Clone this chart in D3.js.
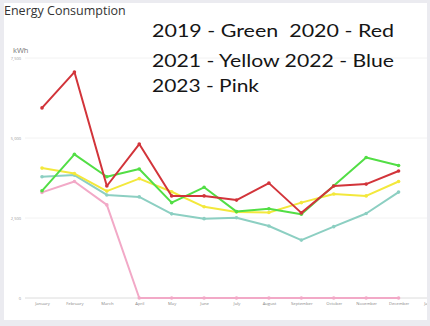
<!DOCTYPE html>
<html><head><meta charset="utf-8">
<script src="https://cdn.jsdelivr.net/npm/d3@7"></script>
<style>html,body{margin:0;padding:0;background:#ebebf0;}svg{display:block}</style>
</head><body>
<svg id="chart" width="430" height="326"></svg>
<script>
const months = ["January","February","March","April","May","June","July","August","September","October","November","December","January "];
const yTicks = [0, 2500, 5000, 7500];
const v2019 = [3350, 4490, 3790, 4030, 2980, 3460, 2700, 2790, 2620, 3510, 4390, 4140];
const v2020 = [5940, 7060, 3500, 4810, 3190, 3190, 3060, 3590, 2660, 3500, 3560, 3970];
const v2021 = [4060, 3890, 3340, 3730, 3320, 2850, 2690, 2670, 2980, 3250, 3190, 3640];
const v2022 = [3790, 3840, 3220, 3160, 2630, 2480, 2510, 2250, 1810, 2230, 2640, 3310];
const v2023 = [3300, 3640, 2910, 0, 0, 0, 0, 0, 0, 0, 0, 0];
const seriesNames = ["2019","2020","2021","2022","2023"];
const seriesColors = ["#52de45","#d2343a","#f3e83c","#8ccfc2","#f2a9c7"];
const legendLines = ["2019 - Green  2020 - Red","2021 - Yellow 2022 - Blue","2023 - Pink"];

const svg = d3.select("#chart");
svg.append("defs").append("clipPath").attr("id","card")
  .append("rect").attr("x",4).attr("y",3).attr("width",423).attr("height",317);
svg.append("rect").attr("x",4).attr("y",3).attr("width",423).attr("height",317).attr("fill","#fff");

const g = svg.append("g").attr("clip-path","url(#card)");
const x = d3.scalePoint().domain(months).range([42, 431]);
const y = d3.scaleLinear().domain([0, 7500]).range([298, 58]);

// grid
g.selectAll("line.grid").data(yTicks).join("line")
  .attr("x1",25).attr("x2",430)
  .attr("y1",d=>y(d)).attr("y2",d=>y(d))
  .attr("stroke",d=>d===0?"#dcdcdc":"#f2f2f2").attr("stroke-width",1);

const yAxis = g.append("g").attr("transform","translate(21,0)")
  .call(d3.axisLeft(y).tickValues(yTicks).tickSize(0).tickPadding(0));
yAxis.select(".domain").remove();
yAxis.selectAll("text").attr("font-size",4).attr("fill","#999").attr("font-family","Open Sans");

const xAxis = g.append("g").attr("transform","translate(0,302)")
  .call(d3.axisBottom(x).tickSize(0).tickPadding(0));
xAxis.select(".domain").remove();
xAxis.selectAll("text").attr("font-size",4.2).attr("fill","#888").attr("font-family","Open Sans");

g.append("text").attr("x",13).attr("y",53).text("kWh")
  .attr("font-size",7.5).attr("fill","#777").attr("font-family","Open Sans");

const allSeries = [v2019, v2020, v2021, v2022, v2023];
const drawOrder = [3, 4, 2, 0, 1];
const line = d3.line().x((d,i)=>x(months[i])).y(d=>y(d));
drawOrder.forEach(k=>{
  const vals = allSeries[k];
  g.append("path").datum(vals).attr("d",line).attr("fill","none")
    .attr("stroke",seriesColors[k]).attr("stroke-width",2).attr("stroke-linejoin","round");
  g.selectAll(null).data(vals).join("circle")
    .attr("cx",(d,i)=>x(months[i])).attr("cy",d=>y(d)).attr("r",1.8)
    .attr("fill",seriesColors[k]);
});

svg.append("text").attr("x",4).attr("y",15).text("Energy Consumption")
  .attr("font-size",12.5).attr("fill","#333").attr("font-family","Open Sans");

const lw = [242, 242, 107];
svg.selectAll("text.leg").data(legendLines).join("text").attr("class","leg")
  .attr("x",152).attr("y",(d,i)=>[36.7,66.5,91.5][i])
  .attr("font-size",18).attr("font-weight",400).attr("fill","#151515").attr("font-family","Lato")
  .attr("textLength",(d,i)=>lw[i]).attr("lengthAdjust","spacingAndGlyphs")
  .style("white-space","pre").text(d=>d);
</script>
</body></html>
